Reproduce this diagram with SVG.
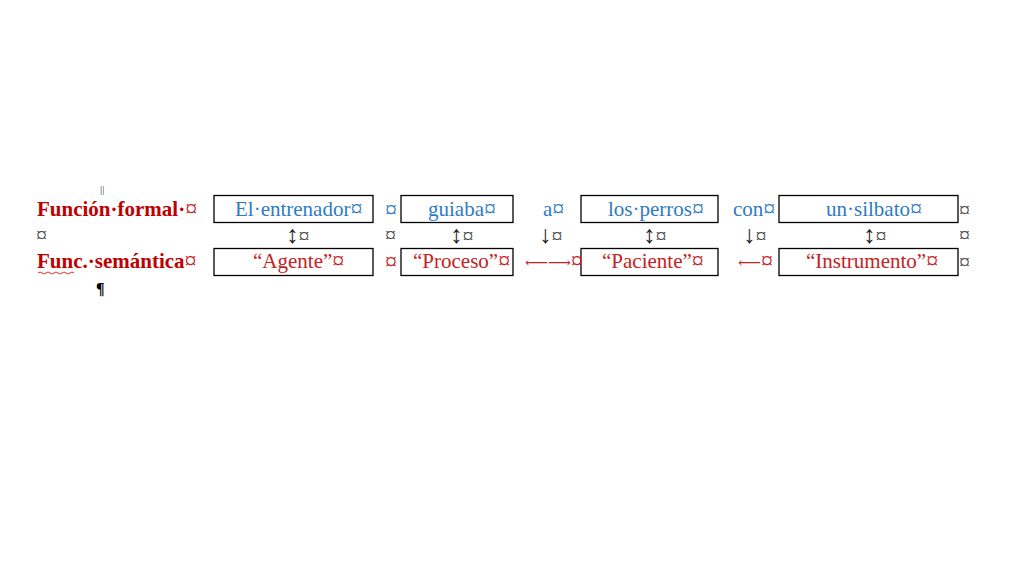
<svg xmlns="http://www.w3.org/2000/svg" width="1024" height="576" viewBox="0 0 1024 576">
<style>
text{font-family:"Liberation Serif","DejaVu Serif",serif;font-size:21px}
.lab{fill:#C00000;font-weight:bold}
.blue{fill:#2E7BC4}
.red{fill:#C8201E}
.mkb{fill:#2E7BC4;font-weight:normal;font-size:24px}
.mkr{fill:#C8201E;font-weight:normal;font-size:24px}
.mkk{fill:#444444;font-weight:normal;font-size:22px}
.ar{fill:#222222;font-size:25px}
.la{fill:#C8201E;font-size:16px}
.box{fill:#ffffff;stroke:#000000;stroke-width:1.3}
</style>
<rect width="1024" height="576" fill="#ffffff"/>
<g id="labels">
<text x="100" y="193" style="font-size:11px;fill:#444">||</text>
<text class="lab" x="37" y="216">Función·formal·<tspan class="mkr">¤</tspan></text>
<text class="mkk" x="36" y="242">¤</text>
<text class="lab" x="37" y="268">Func.·semántica<tspan class="mkr">¤</tspan></text>
<path d="M38 273 q2 -2 4 0 t4 0 t4 0 t4 0 t4 0 t4 0 t4 0 t4 0 t4 0" fill="none" stroke="#E03030" stroke-width="1"/>
<text x="96" y="294" style="font-size:16px;font-weight:bold;fill:#000">¶</text>
</g>
<g id="node-entrenador">
<rect class="box" x="214" y="195.5" width="159" height="27"/>
<text class="blue" x="235" y="216">El·entrenador<tspan class="mkb">¤</tspan></text>
</g>
<g id="node-agente">
<rect class="box" x="214" y="248.5" width="159" height="27"/>
<text class="red" x="253" y="268">“Agente”<tspan class="mkr">¤</tspan></text>
</g>
<g id="node-guiaba">
<rect class="box" x="401" y="195.5" width="112" height="27"/>
<text class="blue" x="428" y="216">guiaba<tspan class="mkb">¤</tspan></text>
</g>
<g id="node-proceso">
<rect class="box" x="401" y="248.5" width="112" height="27"/>
<text class="red" x="413" y="268">“Proceso”<tspan class="mkr">¤</tspan></text>
</g>
<g id="node-perros">
<rect class="box" x="581" y="195.5" width="137" height="27"/>
<text class="blue" x="608" y="216">los·perros<tspan class="mkb">¤</tspan></text>
</g>
<g id="node-paciente">
<rect class="box" x="581" y="248.5" width="137" height="27"/>
<text class="red" x="602" y="268">“Paciente”<tspan class="mkr">¤</tspan></text>
</g>
<g id="node-silbato">
<rect class="box" x="779" y="195.5" width="179" height="27"/>
<text class="blue" x="826" y="216">un·silbato<tspan class="mkb">¤</tspan></text>
</g>
<g id="node-instrumento">
<rect class="box" x="779" y="248.5" width="179" height="27"/>
<text class="red" x="806" y="268">“Instrumento”<tspan class="mkr">¤</tspan></text>
</g>
<g id="words">
<text class="mkb" x="385" y="217">¤</text>
<text class="blue" x="543" y="216">a<tspan class="mkb">¤</tspan></text>
<text class="blue" x="733" y="216">con<tspan class="mkb">¤</tspan></text>
<text class="mkk" x="959" y="217">¤</text>
<text class="mkk" x="385" y="242">¤</text>
<text class="mkk" x="959" y="242">¤</text>
<text class="mkr" x="385" y="269">¤</text>
<text class="mkk" x="959" y="269">¤</text>
</g>
<g id="connectors">
<text class="ar" x="286" y="243">↕<tspan class="mkk">¤</tspan></text>
<text class="ar" x="450" y="243">↕<tspan class="mkk">¤</tspan></text>
<text class="ar" x="539" y="243">↓<tspan class="mkk">¤</tspan></text>
<text class="ar" x="643" y="243">↕<tspan class="mkk">¤</tspan></text>
<text class="ar" x="743" y="243">↓<tspan class="mkk">¤</tspan></text>
<text class="ar" x="863" y="243">↕<tspan class="mkk">¤</tspan></text>
<text class="la" x="525" y="268">⟵⟶<tspan class="mkr">¤</tspan></text>
<text class="la" x="738" y="268">⟵<tspan class="mkr">¤</tspan></text>
</g>
</svg>
